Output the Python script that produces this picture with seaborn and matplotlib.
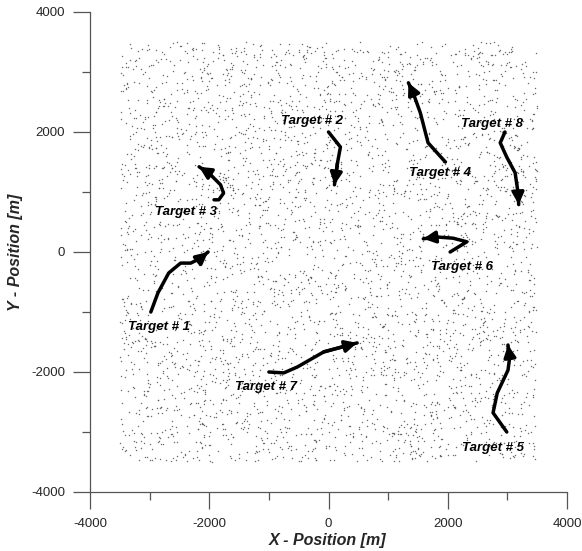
import numpy as np
import pandas as pd
import matplotlib
matplotlib.use("Agg")
import matplotlib.pyplot as plt
import seaborn as sns
from matplotlib.ticker import MultipleLocator

sns.set_style("ticks")
plt.rcParams['font.family'] = ['Liberation Sans', 'DejaVu Sans']
plt.rcParams['axes.unicode_minus'] = False

# --- Target trajectories, start -> end (arrow at end)
t1_x = [-2980, -2860, -2680, -2480, -2310, -2140, -2020]
t1_y = [-1000, -680, -350, -185, -185, -100, 0]
t2_x = [0, 200, 150, 100]
t2_y = [2000, 1750, 1480, 1120]
t3_x = [-1920, -1840, -1760, -1810, -2010, -2170]
t3_y = [870, 870, 980, 1120, 1320, 1420]
t4_x = [1960, 1670, 1540, 1420, 1340]
t4_y = [1500, 1820, 2320, 2650, 2820]
t5_x = [2990, 2760, 2830, 3010, 3040, 3010]
t5_y = [-3000, -2680, -2350, -1970, -1750, -1550]
t6_x = [2040, 2320, 2090, 1820, 1590]
t6_y = [0, 170, 230, 250, 220]
t7_x = [-1000, -750, -520, -80, 480]
t7_y = [-2000, -2015, -1915, -1665, -1515]
t8_x = [2960, 2880, 2990, 3130, 3180, 3190]
t8_y = [2000, 1820, 1580, 1320, 980, 790]

track_names = ["Target # 1", "Target # 2", "Target # 3", "Target # 4",
               "Target # 5", "Target # 6", "Target # 7", "Target # 8"]
tracks_x = [t1_x, t2_x, t3_x, t4_x, t5_x, t6_x, t7_x, t8_x]
tracks_y = [t1_y, t2_y, t3_y, t4_y, t5_y, t6_y, t7_y, t8_y]

# label centres (data coords)
label_x = [-2840, -270, -2390, 1870, 2760, 2240, -1040, 2740]
label_y = [-1250, 2180, 670, 1320, -3270, -250, -2250, 2130]

# --- Clutter (random false alarms, uniform over the surveillance square)
clutter_n = 4000
clutter_lim = 3500
rng = np.random.default_rng(7)
clutter_x = rng.uniform(-clutter_lim, clutter_lim, clutter_n)
clutter_y = rng.uniform(-clutter_lim, clutter_lim, clutter_n)

fig = plt.figure(figsize=(5.82, 5.51), dpi=100)
ax = fig.add_axes([90/582, 1-492/551, (567-90)/582, (492-12)/551])

clutter = pd.DataFrame({"x": clutter_x, "y": clutter_y})
sns.scatterplot(data=clutter, x="x", y="y", ax=ax, s=1.1, color="#555555",
                linewidth=0, alpha=0.85, legend=False)

for name, xs, ys in zip(track_names, tracks_x, tracks_y):
    df = pd.DataFrame({"x": xs, "y": ys})
    sns.lineplot(data=df, x="x", y="y", ax=ax, sort=False, estimator=None,
                 color="black", linewidth=2.5, legend=False,
                 solid_capstyle="round", solid_joinstyle="round")
    ax.annotate("", xy=(xs[-1], ys[-1]), xytext=(xs[-2], ys[-2]),
                arrowprops=dict(arrowstyle="-|>,head_length=0.7,head_width=0.35",
                                color="black", lw=2.5, shrinkA=0, shrinkB=0))

for name, lx, ly in zip(track_names, label_x, label_y):
    ax.text(lx, ly, name, ha="center", va="center", fontsize=9.5,
            fontweight="bold", fontstyle="italic", color="black")

ax.set_xlim(-4000, 4000)
ax.set_ylim(-4000, 4000)
ax.xaxis.set_major_locator(MultipleLocator(2000))
ax.yaxis.set_major_locator(MultipleLocator(2000))
ax.xaxis.set_minor_locator(MultipleLocator(1000))
ax.yaxis.set_minor_locator(MultipleLocator(1000))
ax.tick_params(which="major", direction="out", length=12, width=0.9,
               color="#555555", labelsize=9.5, pad=6)
ax.tick_params(axis="x", which="major", pad=7)
ax.tick_params(which="minor", direction="out", length=6, width=0.9,
               color="#555555")
sns.despine(ax=ax)
for sp in ["left", "bottom"]:
    ax.spines[sp].set_color("#555555")
    ax.spines[sp].set_linewidth(0.9)

ax.set_xlabel("X - Position [m]", fontsize=11.5, fontweight="bold",
              fontstyle="italic")
ax.set_ylabel("Y - Position [m]", fontsize=11.5, fontweight="bold",
              fontstyle="italic")
ax.xaxis.set_label_coords((328 - 90) / 477, -(541 - 492) / 480)
ax.yaxis.set_label_coords(-(90 - 16) / 477, (492 - 252) / 480)
ax.xaxis.label.set_va("center")
ax.yaxis.label.set_va("center")

fig.savefig("out.png", dpi=100)
